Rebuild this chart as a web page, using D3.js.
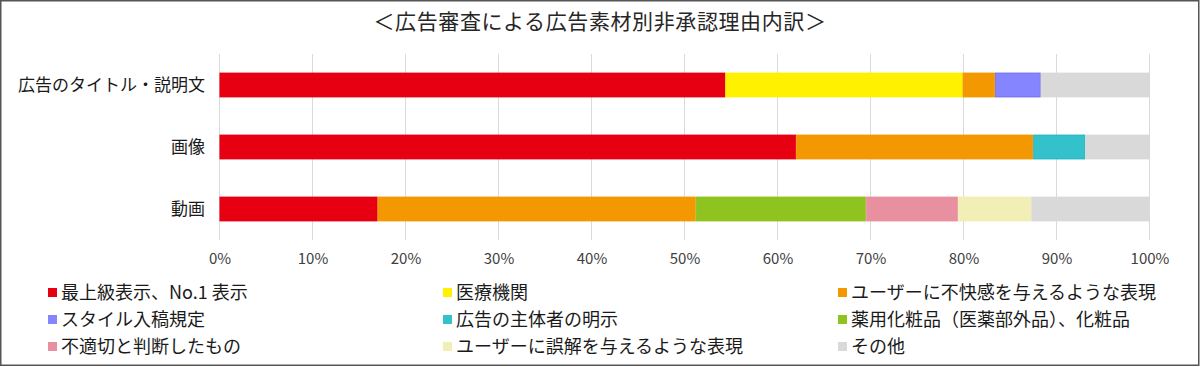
<!DOCTYPE html>
<html><head><meta charset="utf-8">
<script src="https://cdn.jsdelivr.net/npm/d3@7"></script>
<style>
html,body{margin:0;padding:0;background:#fff;}
svg{display:block;}
text{font-family:"Noto Sans CJK JP","Noto Sans",sans-serif;}
</style></head>
<body>
<svg id="c" width="1200" height="367"></svg>
<script>
const title = "＜広告審査による広告素材別非承認理由内訳＞";
const categories = ["広告のタイトル・説明文", "画像", "動画"];
const seriesNames = [
  "最上級表示、No.1 表示",
  "医療機関",
  "ユーザーに不快感を与えるような表現",
  "スタイル入稿規定",
  "広告の主体者の明示",
  "薬用化粧品（医薬部外品）、化粧品",
  "不適切と判断したもの",
  "ユーザーに誤解を与えるような表現",
  "その他"
];
const colors = ["#E60012","#FFF100","#F39800","#8585FF","#33C1CC","#8FC31F","#E8909F","#F1EEB6","#D9D9D9"];
const strokeColors = ["#E60012","#FFF100","#F39800","#6A6AF0","#1FB3BF","#8FC31F","#E8909F","#F1EEB6","#D9D9D9"];
// values in %, per category, in series order
const values = [
  [54.4, 25.5, 3.5, 4.9, 0, 0, 0, 0, 11.7],
  [62.0, 0, 25.5, 0, 5.6, 0, 0, 0, 6.9],
  [17.0, 0, 34.2, 0, 0, 18.3, 9.9, 7.9, 12.7]
];
const tickValues = [0,10,20,30,40,50,60,70,80,90,100];

const svg = d3.select("#c");
const W = 1200, H = 367;

// border
svg.append("rect").attr("x",0.75).attr("y",0.75).attr("width",W-2).attr("height",H-2.5)
  .attr("fill","#fff").attr("stroke","#555").attr("stroke-width",1.5);

svg.append("text").attr("x",600).attr("y",29).attr("text-anchor","middle")
  .attr("font-size",21).attr("fill","#262626").attr("letter-spacing","0.6")
  .text(title);

const x = d3.scaleLinear().domain([0,100]).range([219.5,1149.5]);
const y = d3.scaleBand().domain(categories).range([54,240]).paddingInner(0.6).paddingOuter(0.3);

// gridlines
svg.append("g").selectAll("line").data(tickValues).join("line")
  .attr("x1",d=>x(d)).attr("x2",d=>x(d)).attr("y1",54).attr("y2",240)
  .attr("stroke","#D9D9D9").attr("stroke-width",1);

// stack
const rows = categories.map((c,i)=>{const o={cat:c}; seriesNames.forEach((s,j)=>o[s]=values[i][j]); return o;});
const stacked = d3.stack().keys(seriesNames)(rows);

svg.append("g").selectAll("g").data(stacked).join("g")
  .attr("fill",(d,i)=>colors[i]).attr("stroke",(d,i)=>strokeColors[i]).attr("stroke-width",0.8)
  .selectAll("rect").data(d=>d.filter(p=>p[1]-p[0]>0)).join("rect")
  .attr("x",d=>x(d[0])+0.4).attr("width",d=>x(d[1])-x(d[0])-0.8)
  .attr("y",d=>y(d.data.cat)+0.4).attr("height",y.bandwidth()-0.8);

// category axis labels
svg.append("g").selectAll("text").data(categories).join("text")
  .attr("x",205).attr("y",d=>y(d)+y.bandwidth()/2).attr("dy","0.36em")
  .attr("text-anchor","end").attr("font-size",17).attr("fill","#1a1a1a").text(d=>d);

// x axis tick labels
const xAxis = d3.axisBottom(x).tickValues(tickValues).tickFormat(d=>d+"%").tickSize(0).tickPadding(0);
const gx = svg.append("g").attr("transform","translate(0,255)").call(xAxis);
gx.select(".domain").remove();
gx.selectAll("text").attr("font-size",15).attr("fill","#404040")
  .attr("font-family","'Liberation Sans Narrow','Noto Sans CJK JP',sans-serif").attr("dy","0.6em");

// legend
const legX = [48, 443, 838];
const legY = [292.5, 319.5, 346.5];
const leg = svg.append("g").selectAll("g").data(seriesNames).join("g")
  .attr("transform",(d,i)=>`translate(${legX[i%3]},${legY[Math.floor(i/3)]})`);
leg.append("rect").attr("x",0).attr("y",-4.5).attr("width",9).attr("height",9)
  .attr("fill",(d,i)=>colors[i]);
leg.append("text").attr("x",13).attr("y",0).attr("dy","0.36em")
  .attr("font-size",18).attr("fill","#1a1a1a").text(d=>d);
</script>
</body></html>
